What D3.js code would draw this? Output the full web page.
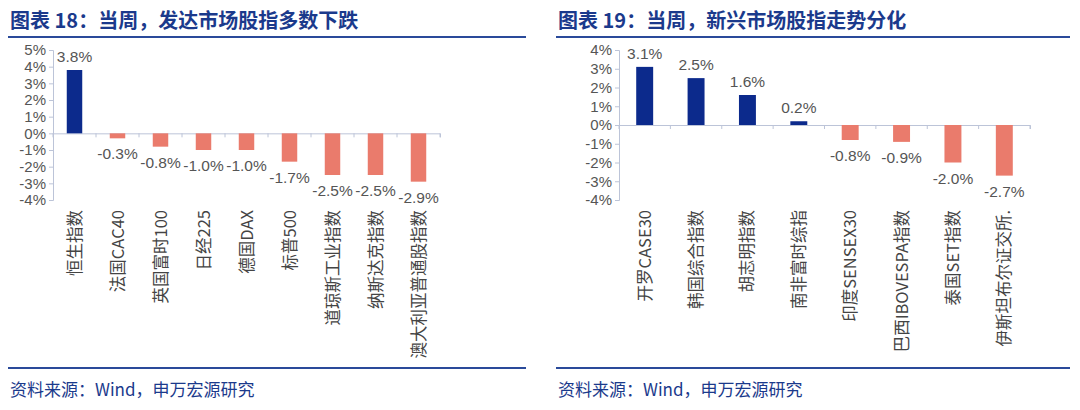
<!DOCTYPE html>
<html><head><meta charset="utf-8">
<script src="https://cdn.jsdelivr.net/npm/d3@7"></script>
<style>body{margin:0;background:#fff}svg{display:block}</style>
</head><body><div id="chart"></div>
<script>
const width = 1080, height = 410;

// left panel data
const devNames = ['恒生指数','法国CAC40','英国富时100','日经225','德国DAX','标普500','道琼斯工业指数','纳斯达克指数','澳大利亚普通股指数'];
const devValues = [3.8,-0.3,-0.8,-1.0,-1.0,-1.7,-2.5,-2.5,-2.9];
const devTicks = [5,4,3,2,1,0,-1,-2,-3,-4];

// right panel data
const emNames = ['开罗CASE30','韩国综合指数','胡志明指数','南非富时综指','印度SENSEX30','巴西IBOVESPA指数','泰国SET指数','伊斯坦布尔证交所.'];
const emValues = [3.1,2.5,1.6,0.2,-0.8,-0.9,-2.0,-2.7];
const emTicks = [4,3,2,1,0,-1,-2,-3,-4];

const svg = d3.select('#chart').append('svg').attr('width', width).attr('height', height)
  .style('font-family', '"Noto Sans CJK SC", sans-serif');

function panel(o) {
  const g = svg.append('g');
  g.append('text').attr('x', o.x0 + 2).attr('y', 28).text(o.title)
    .attr('font-size', 20).attr('font-weight', 'bold').attr('fill', '#1b3a8c');
  g.append('rect').attr('x', o.x0).attr('y', 36).attr('width', o.x1 - o.x0).attr('height', 2).attr('fill', '#2a4a9a');
  g.append('rect').attr('x', o.x0).attr('y', 367).attr('width', o.x1 - o.x0).attr('height', 2).attr('fill', '#2a4a9a');
  g.append('text').attr('x', o.x0 + 2).attr('y', 396).text('资料来源：Wind，申万宏源研究')
    .attr('font-size', 17).attr('fill', '#1b3a8c');

  const y = d3.scaleLinear().domain([o.ticks[o.ticks.length - 1], o.ticks[0]]).range([200, 50]);
  const x = d3.scaleBand().domain(o.names).range([o.ax, o.axEnd]);

  const yAxis = d3.axisLeft(y).tickValues(o.ticks).tickSize(4).tickFormat(d => d + '%');
  const ya = g.append('g').attr('transform', `translate(${o.ax},0)`).call(yAxis);
  ya.select('.domain').attr('stroke', '#bcc4d8');
  ya.selectAll('line').attr('stroke', '#bcc4d8');
  ya.selectAll('text').attr('font-size', 15).attr('fill', '#555').attr('font-family', 'Arial, "Liberation Sans", sans-serif');

  const xa = g.append('g').attr('transform', `translate(0,${y(0)})`)
    .call(d3.axisBottom(x).tickSize(4).tickFormat(''));
  xa.select('.domain').attr('stroke', '#bcc4d8');
  xa.selectAll('.tick').attr('transform', (d) => `translate(${x(d)},0)`);
  xa.selectAll('line').attr('stroke', '#bcc4d8');
  g.append('line').attr('x1', o.axEnd).attr('x2', o.axEnd).attr('y1', y(0)).attr('y2', y(0) + 4).attr('stroke', '#bcc4d8');

  const bw = x.bandwidth() * o.bf;
  const data = o.names.map((n, i) => ({n, v: o.values[i]}));
  g.selectAll('.bar').data(data).join('rect')
    .attr('x', d => x(d.n) + (x.bandwidth() - bw) / 2)
    .attr('y', d => y(Math.max(0, d.v)))
    .attr('width', bw)
    .attr('height', d => Math.abs(y(d.v) - y(0)))
    .attr('fill', d => d.v >= 0 ? '#0c2a8c' : '#ea7b6c');

  g.selectAll('.val').data(data).join('text')
    .attr('x', d => x(d.n) + x.bandwidth() / 2)
    .attr('y', d => d.v >= 0 ? y(d.v) - 8 : y(d.v) + 21)
    .attr('text-anchor', 'middle').attr('font-size', 15.5).attr('fill', '#555')
    .attr('font-family', 'Arial, "Liberation Sans", sans-serif')
    .text(d => d.v.toFixed(1) + '%');

  g.selectAll('.lab').data(data).join('text')
    .attr('transform', d => `translate(${x(d.n) + x.bandwidth() / 2 + 6},210) rotate(-90)`)
    .attr('text-anchor', 'end').attr('font-size', 16.5).attr('fill', '#444')
    .text(d => d.n);
}

panel({x0: 8, x1: 526, title: '图表 18：当周，发达市场股指多数下跌', names: devNames, values: devValues,
  ticks: devTicks, ax: 53, axEnd: 440, bf: 0.36});
panel({x0: 556, x1: 1070, title: '图表 19：当周，新兴市场股指走势分化', names: emNames, values: emValues,
  ticks: emTicks, ax: 619, axEnd: 1030, bf: 0.33});
</script></body></html>
